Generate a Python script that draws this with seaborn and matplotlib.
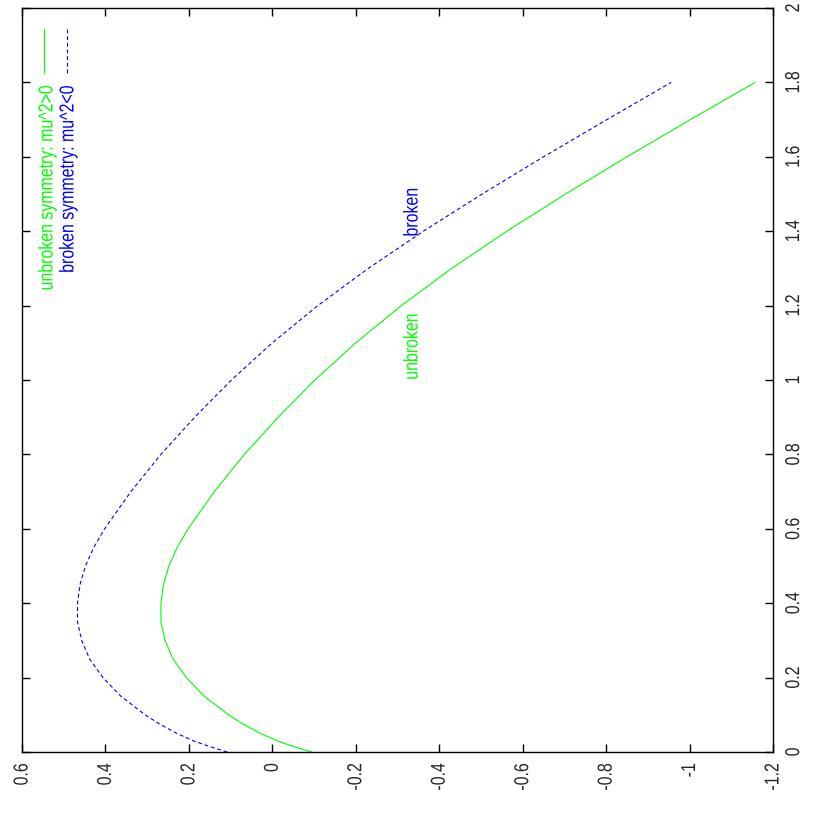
import matplotlib
matplotlib.use("Agg")
import matplotlib.pyplot as plt
import seaborn as sns
import pandas as pd
from matplotlib.patheffects import AbstractPathEffect
from matplotlib.transforms import Affine2D

# field value (plotted vertically) and potential (plotted horizontally, reversed)
phi_unbroken = [0.00, 0.01, 0.02, 0.03, 0.05, 0.075, 0.10, 0.15, 0.20, 0.25, 0.30, 0.35,
                0.40, 0.45, 0.50, 0.55, 0.60, 0.70, 0.80, 0.90, 1.00, 1.10, 1.20, 1.30,
                1.40, 1.50, 1.60, 1.70, 1.80]
v_unbroken = [-0.094, -0.064, -0.037, -0.012, 0.029, 0.070, 0.105, 0.163, 0.206, 0.238, 0.257, 0.267,
              0.267, 0.261, 0.248, 0.228, 0.202, 0.139, 0.067, -0.014, -0.102, -0.200, -0.309, -0.430,
              -0.562, -0.703, -0.850, -1.002, -1.157]
phi_broken = [0.00, 0.01, 0.02, 0.03, 0.05, 0.075, 0.10, 0.15, 0.20, 0.25, 0.30, 0.35,
              0.40, 0.45, 0.50, 0.55, 0.60, 0.70, 0.80, 0.90, 1.00, 1.10, 1.20, 1.30,
              1.40, 1.50, 1.60, 1.70, 1.80]
v_broken = [0.108, 0.137, 0.164, 0.189, 0.229, 0.270, 0.305, 0.363, 0.406, 0.438, 0.457, 0.467,
            0.467, 0.461, 0.448, 0.428, 0.402, 0.339, 0.267, 0.186, 0.098, 0.000, -0.109, -0.230,
            -0.362, -0.503, -0.650, -0.802, -0.956]

series_labels = ["unbroken symmetry: mu^2>0", "broken symmetry: mu^2<0"]
curve_labels = ["unbroken", "broken"]
h_ticks = [0.6, 0.4, 0.2, 0.0, -0.2, -0.4, -0.6, -0.8, -1.0, -1.2]
h_ticklabels = ["0.6", "0.4", "0.2", "0", "-0.2", "-0.4", "-0.6", "-0.8", "-1", "-1.2"]
v_ticks = [0.0, 0.2, 0.4, 0.6, 0.8, 1.0, 1.2, 1.4, 1.6, 1.8, 2.0]
v_ticklabels = ["0", "0.2", "0.4", "0.6", "0.8", "1", "1.2", "1.4", "1.6", "1.8", "2"]

GREEN = "#00ff00"
BLUE = "#0000ff"
FS = 14.5
SQ = 0.79


class Squeeze(AbstractPathEffect):
    """Condense glyphs along the reading direction (like the stretched original)."""

    def __init__(self, sx=SQ, anchor=0.5):
        super().__init__()
        self.sx = sx
        self.anchor = anchor

    def draw_path(self, renderer, gc, tpath, affine, rgbFace=None):
        ext = tpath.get_extents()
        x0 = ext.x0 + self.anchor * ext.width
        pre = Affine2D().translate(-x0, 0).scale(self.sx, 1.0).translate(x0, 0)
        renderer.draw_path(gc, tpath, pre + affine, rgbFace)


sns.set_style("white")
plt.rcParams["font.family"] = ["Liberation Sans", "DejaVu Sans"]

fig = plt.figure(figsize=(8.3, 8.3), dpi=100)
ax = fig.add_axes([22 / 830, 78 / 830, 751 / 830, 744 / 830])

df_u = pd.DataFrame({"v": v_unbroken, "phi": phi_unbroken})
df_b = pd.DataFrame({"v": v_broken, "phi": phi_broken})
sns.lineplot(data=df_u, x="v", y="phi", sort=False, estimator=None, ax=ax,
             color=GREEN, linewidth=0.8)
sns.lineplot(data=df_b, x="v", y="phi", sort=False, estimator=None, ax=ax,
             color=BLUE, linewidth=0.8)
ax.lines[1].set_dashes([3.5, 2.5])

ax.set_xlim(0.6, -1.2)
ax.set_ylim(0, 2)
ax.set_xlabel("")
ax.set_ylabel("")
ax.set_xticks(h_ticks)
ax.set_xticklabels(h_ticklabels, rotation=90, fontsize=FS)
ax.set_yticks(v_ticks)
ax.set_yticklabels(v_ticklabels, rotation=90, fontsize=FS, va="center")
ax.tick_params(direction="in", length=6, width=1.0, color="black",
               top=True, bottom=True, left=True, right=True,
               labelleft=False, labelright=True, labeltop=False, labelbottom=True)
ax.tick_params(axis="x", pad=8)
ax.tick_params(axis="y", pad=8)
for lab in ax.get_xticklabels():
    lab.set_path_effects([Squeeze(anchor=1.0)])
for lab in ax.get_yticklabels():
    lab.set_path_effects([Squeeze(anchor=0.5)])
for s in ax.spines.values():
    s.set_color("black")
    s.set_linewidth(1.0)
    s.set_visible(True)

# legend (rotated, as in the reference)
ax.plot([0.0293, 0.0293], [0.9718, 0.9126], transform=ax.transAxes,
        color=GREEN, linewidth=0.8)
leg_b, = ax.plot([0.0599, 0.0599], [0.9718, 0.9126], transform=ax.transAxes,
                 color=BLUE, linewidth=0.8)
leg_b.set_dashes([3.5, 2.5])
t1 = ax.text(0.0333, 0.8965, series_labels[0], transform=ax.transAxes, rotation=90,
             rotation_mode="anchor", ha="right", va="center", color=GREEN, fontsize=FS)
t2 = ax.text(0.0612, 0.8965, series_labels[1], transform=ax.transAxes, rotation=90,
             rotation_mode="anchor", ha="right", va="center", color=BLUE, fontsize=FS)
t1.set_path_effects([Squeeze(anchor=1.0)])
t2.set_path_effects([Squeeze(anchor=1.0)])

# curve labels
t3 = ax.text(-0.335, 1.0, curve_labels[0], rotation=90, rotation_mode="anchor",
             ha="left", va="center", color=GREEN, fontsize=FS)
t4 = ax.text(-0.335, 1.385, curve_labels[1], rotation=90, rotation_mode="anchor",
             ha="left", va="center", color=BLUE, fontsize=FS)
t3.set_path_effects([Squeeze(anchor=0.0)])
t4.set_path_effects([Squeeze(anchor=0.0)])

fig.savefig("out.png", dpi=100, facecolor="white")
